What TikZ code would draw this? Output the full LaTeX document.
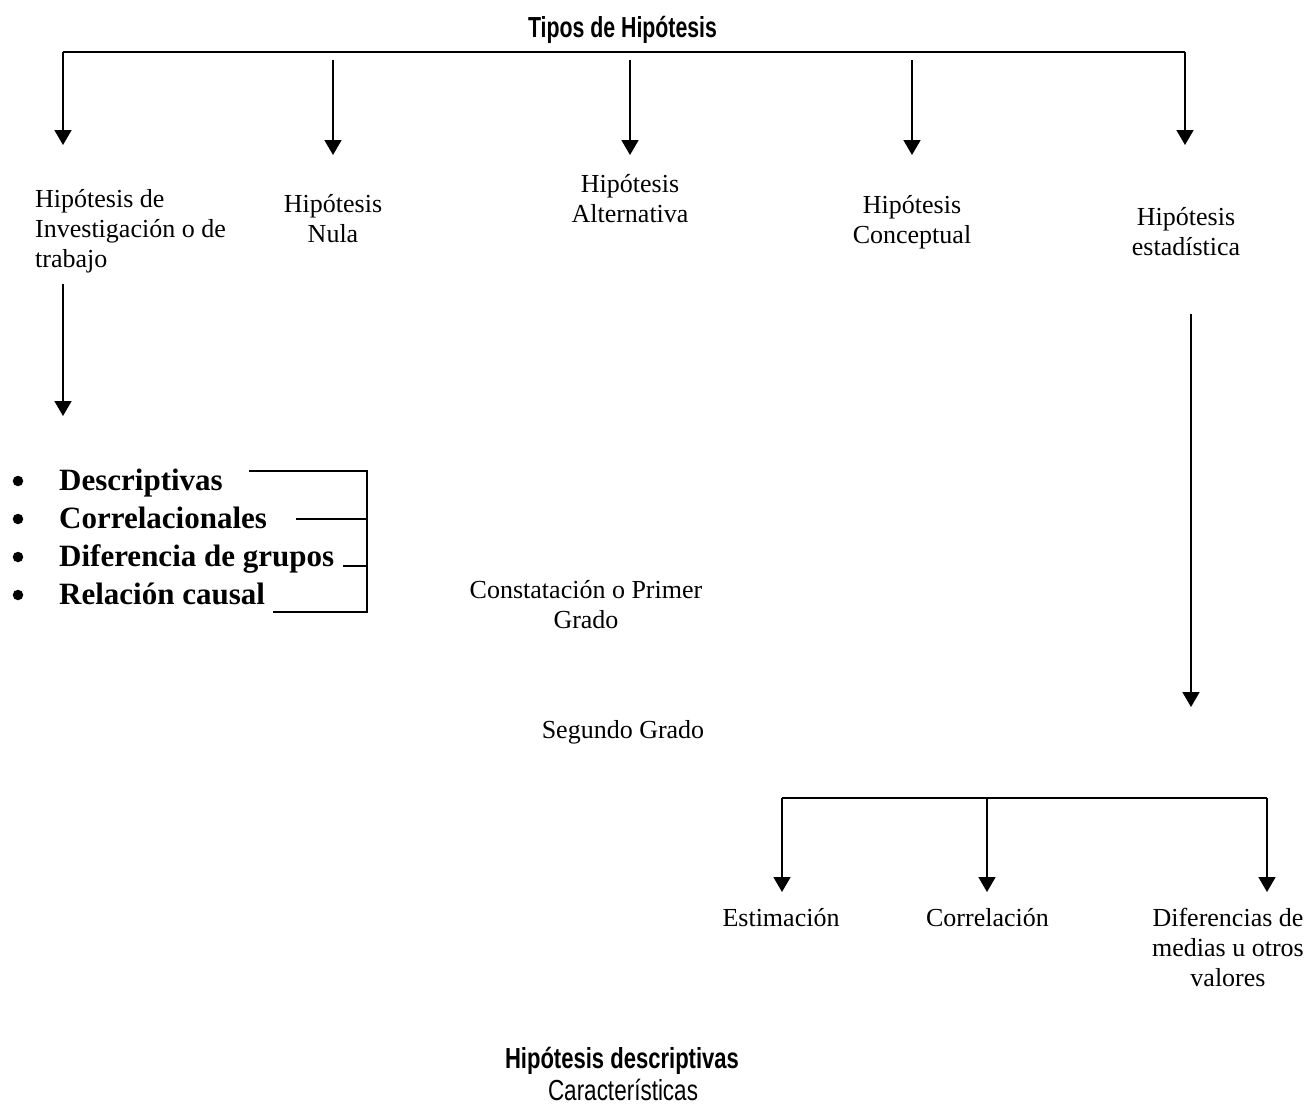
\documentclass[tikz,border=0pt]{standalone}
\usepackage{fontspec}
\usepackage{graphicx}
\setmainfont{Liberation Serif}
\newfontfamily\agencyfont{Liberation Sans}
\usetikzlibrary{arrows.meta}
\begin{document}
\begin{tikzpicture}[x=1pt,y=-1pt,
  lbl/.style={font=\fontsize{26}{30}\selectfont, align=center, inner sep=0pt},
  bl/.style={font=\bfseries\fontsize{31}{36}\selectfont, inner sep=0pt, anchor=base west},
  bul/.style={circle, fill=black, inner sep=0pt, minimum size=10.5pt},
  ttl/.style={font=\agencyfont\bfseries\fontsize{29}{33}\selectfont, inner sep=0pt, anchor=base},
  ttlr/.style={font=\agencyfont\fontsize{29}{33}\selectfont, inner sep=0pt, anchor=base},
  arr/.style={line width=1.6pt, -{Triangle[width=17pt,length=15pt]}},
  bar/.style={line width=2pt},
  thinbar/.style={line width=1.4pt}]
\useasboundingbox (0,0) rectangle (1311,1109);

% Title
\node[ttl] (title) at (622.5,37) {\resizebox{189pt}{\height}{Tipos de Hipótesis}};

% Top bracket
\coordinate (tl) at (63,52);
\coordinate (tr) at (1185,52);
\draw[bar] (tl) -- (tr);

\coordinate (s2) at (333,60);
\coordinate (s3) at (630,60);
\coordinate (s4) at (912,60);
\coordinate (e1) at (63,145);
\coordinate (e2) at (333,155);
\coordinate (e3) at (630,155);
\coordinate (e4) at (912,155);
\coordinate (e5) at (1185,145);
\draw[arr] (tl) -- (e1);
\draw[arr] (s2) -- (e2);
\draw[arr] (s3) -- (e3);
\draw[arr] (s4) -- (e4);
\draw[arr] (tr) -- (e5);

% Category nodes
\node[lbl, anchor=west, align=left] (inv) at (35,231) {Hipótesis de\\Investigación o de\\trabajo};
\node[lbl] (nula) at (333,219) {Hipótesis\\Nula};
\node[lbl] (alt) at (630,199) {Hipótesis\\Alternativa};
\node[lbl] (conc) at (912,222) {Hipótesis\\Conceptual};
\node[lbl] (est) at (1186,232) {Hipótesis\\estadística};

% Arrow from investigation
\coordinate (i1) at (63,284);
\coordinate (i2) at (63,416);
\draw[arr] (i1) -- (i2);

% Bullet list
\node[bul] (b1) at (18,481) {};
\node[bul] (b2) at (18,519) {};
\node[bul] (b3) at (18,557) {};
\node[bul] (b4) at (18,595) {};
\node[bl] (desc) at (59,490) {Descriptivas};
\node[bl] (corr) at (59,528) {Correlacionales};
\node[bl] (dif) at (59,566) {Diferencia de grupos};
\node[bl] (rel) at (59,604) {Relación causal};

% Bracket on the right of the list
\coordinate (k1a) at (249,471);
\coordinate (k2a) at (296,519);
\coordinate (k3a) at (343,566);
\coordinate (k4a) at (273,612);
\coordinate (k1) at (367,471);
\coordinate (k2) at (367,519);
\coordinate (k3) at (367,566);
\coordinate (k4) at (367,612);
\draw[thinbar] (k1a) -- (k1) -- (k4) -- (k4a);
\draw[thinbar] (k2a) -- (k2);
\draw[thinbar] (k3a) -- (k3);

% Middle texts
\node[lbl] (const) at (586,604.5) {Constatación o Primer\\Grado};
\node[lbl, anchor=base] (seg) at (623,738) {Segundo Grado};

% Statistical branch
\coordinate (st1) at (1191,314);
\coordinate (st2) at (1191,707);
\draw[arr] (st1) -- (st2);

\coordinate (hl) at (782,798);
\coordinate (hm) at (987,798);
\coordinate (hr) at (1267,798);
\draw[thinbar] (hl) -- (hr);
\coordinate (f1) at (782,892);
\coordinate (f2) at (987,892);
\coordinate (f3) at (1267,892);
\draw[arr] (hl) -- (f1);
\draw[arr] (hm) -- (f2);
\draw[arr] (hr) -- (f3);

\node[lbl, anchor=base] (estim) at (781,926) {Estimación};
\node[lbl, anchor=base] (correl) at (987.5,926) {Correlación};
\node[lbl] (difm) at (1228,947) {Diferencias de\\medias u otros\\valores};

% Bottom titles
\node[ttl] (hdesc) at (622,1068) {\resizebox{234pt}{\height}{Hipótesis descriptivas}};
\node[ttlr] (carac) at (623,1100) {\resizebox{150pt}{\height}{Características}};
\end{tikzpicture}
\end{document}
